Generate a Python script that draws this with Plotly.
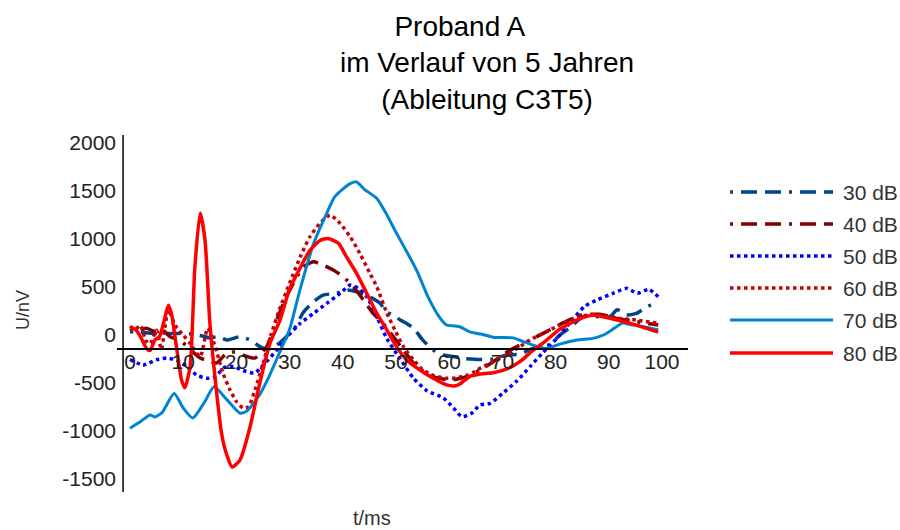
import plotly.graph_objects as go

# ---- data: time (ms) and amplitude (nV) for each stimulus level ----
t30 = [0, 2, 4.4, 6.9, 8.8, 10, 12.5, 15, 16.5, 18.2, 20.7, 22.6, 24.4, 26, 28.2, 30, 31.3, 32.5,
       34.5, 36.3, 38.8, 40.7, 42.6, 44.5, 47, 48.2, 49.5, 50.8, 52, 53.3, 55, 57, 58.9, 60.8,
       62.6, 65.8, 68.3, 70.8, 73.3, 75.2, 77.1, 78.9, 80.8, 82.7, 85.2, 88, 90.2, 91.6, 93.4,
       95.2, 97.4, 99.3]
u30 = [35, 30, 17, 17, 17, 17, 5, -30, -17, -52, -17, -52, -121, -150, -80, 17, 100, 230,
       347, 416, 434, 468, 451, 416, 330, 240, 208, 156, 121, 70, -50, -156, -208, -225,
       -243, -255, -250, -208, -200, -150, -120, -100, 0, 78, 191, 190, 191, 262, 210,
       225, 300, 330]

t40 = [0, 1.5, 3.1, 4.5, 6, 7.5, 9.5, 11.3, 13.2, 15, 16.3, 18, 20, 21.5, 23.5, 25.7, 27.6,
       29.1, 30.7, 32.6, 34.5, 36.3, 38.2, 40.1, 42, 43.9, 45.7, 47.6, 49.5, 51.4, 53.9, 57,
       60.2, 63.3, 65.8, 67.7, 71.4, 75.2, 78.3, 80.8, 84.6, 88.3, 91.5, 95.2, 99.3]
u40 = [70, 50, 70, 40, 60, -17, -60, -150, -240, -275, -290, -200, -175, -215, -240, -121, 156,
       364, 538, 710, 762, 728, 676, 606, 502, 364, 226, 121, -17, -156, -329, -434,
       -468, -434, -364, -300, -160, -52, 35, 110, 205, 215, 173, 140, 104]

t50 = [0, 2.5, 5, 7, 8.8, 10.7, 12.5, 14.4, 16, 17.7, 19.4, 21.3, 23.4, 25.2, 27.6, 29.5, 32,
       34.5, 37, 39.5, 41.4, 43, 44.5, 46.4, 48.3, 50.8, 53.3, 55.8, 58.9, 60.8, 62.4, 64.2,
       65.8, 67.7, 70, 72.7, 75.2, 77.5, 80.5, 83, 85.5, 88, 90.8, 93.4, 95.4, 97.5, 99.3]
u50 = [-255, -312, -258, -240, -265, -329, -416, -451, -434, -340, -329, -370, -395, -305, -156,
       -20, 121, 226, 330, 434, 520, 485, 399, 191, -40, -250, -450, -580, -655, -760, -850,
       -815, -728, -711, -610, -480, -330, -190, -20, 150, 300, 370, 434, 486, 434, 475, 399]

t60 = [0, 1, 2, 3, 3.8, 5, 5.9, 7.2, 8.5, 10, 11.3, 13.2, 14.6, 16, 17.5, 18.8, 20.1, 21.3,
       22.3, 23.5, 25, 26.5, 28, 30, 32, 33.8, 35.7, 37.6, 39.5, 41.4, 43.2, 45.1, 46.4, 48.3,
       49.8, 51.4, 53.3, 55, 57, 59.5, 61.4, 63.3, 64.5, 66, 67.7, 70.8, 73.3, 75.8, 78.3,
       80.8, 84, 86.5, 89, 92.1, 95.2, 99.3]
u60 = [90, 60, 100, -60, -90, 50, -150, 260, 100, 0, -87, -225, 70, -120, -400, -572, -700, -763,
       -746, -572, -300, 0, 250, 538, 814, 1022, 1162, 1248, 1162, 1022, 850, 642, 502, 226,
       52, -121, -260, -360, -420, -451, -445, -420, -390, -340, -295, -208, -121, -35, 35,
       104, 191, 208, 208, 173, 156, 121]

t70 = [0, 2, 3.8, 4.7, 6, 8.3, 10, 11.8, 14, 15.8, 18, 20.7, 22, 24.4, 26, 28.4, 30, 32, 34.5,
       37, 38.5, 40, 41.5, 42.6, 44, 46.4, 48, 50, 52, 54, 56, 58, 59.5, 61, 62, 64, 66, 68.5,
       72, 74, 76, 78.3, 80.8, 84, 87, 89, 91, 92.6, 94, 96.5, 99.3]
u70 = [-970, -900, -832, -853, -810, -610, -760, -865, -700, -540, -660, -815, -790, -620, -450,
       -146, 60, 480, 950, 1270, 1440, 1520, 1580, 1594, 1520, 1422, 1280, 1070, 870, 660, 400,
       200, 104, 95, 86, 30, 10, -25, -30, -70, -110, -140, -95, -52, -35, 0, 69, 125, 110,
       87, 55]

t80 = [0, 1, 2, 3.1, 3.8, 4.7, 5.5, 6.3, 7.2, 7.8, 8.8, 9.7, 10.3, 11.3, 12.2, 13.2, 14.1, 15,
       16, 17.2, 18.2, 19.2, 20.7, 22.6, 24.4, 26.3, 28.2, 30, 32, 33.8, 35.7, 37.2, 39.2, 40.7,
       42.6, 44.5, 46.4, 48.3, 50.1, 52, 54.5, 57, 59.5, 61, 62, 63.9, 65.5, 68.5, 71, 73.5,
       75.5, 77.5, 80.8, 84, 87.1, 90.2, 94, 97.1, 99.3]
u80 = [70, 60, -20, -140, -160, -50, -20, 120, 310, 220, -150, -470, -550, -330, 710, 1270, 990,
       140, -450, -1020, -1250, -1375, -1300, -950, -500, -87, 156, 480, 700, 880, 985, 1006,
       954, 814, 642, 434, 226, 52, -121, -260, -364, -450, -520, -530, -510, -430, -410, -390,
       -350, -270, -170, -90, 60, 156, 208, 173, 121, 69, 30]

labels = ["30 dB", "40 dB", "50 dB", "60 dB", "70 dB", "80 dB"]
times = [t30, t40, t50, t60, t70, t80]
values = [u30, u40, u50, u60, u70, u80]

x_ticks = [0, 10, 20, 30, 40, 50, 60, 70, 80, 90, 100]
y_ticks = [-1500, -1000, -500, 0, 500, 1000, 1500, 2000]
y_ticktext = [str(v) for v in y_ticks]  # plain hyphen-minus

# ---- line styles per level ----
DASHDOT = "3px,8px,16px,8px,16px,8px"
DOTS = "3.5px,3.5px"
styles = [
    dict(color="#004586", dash=DASHDOT, width=3.5),
    dict(color="#800000", dash=DASHDOT, width=3.5),
    dict(color="#0000ff", dash=DOTS, width=3.5),
    dict(color="#c5000b", dash=DOTS, width=3.5),
    dict(color="#0084d1", dash="solid", width=3),
    dict(color="#ff0000", dash="solid", width=3.5),
]

W, H = 900, 530
L, R, T, B = 117, 212, 135, 38
X_RANGE = [-2.44, 104.89]
Y_RANGE = [-1635, 2083]
X_AXIS_AT = -146          # horizontal axis crosses here
Y_AXIS_AT = -1.3          # vertical axis crosses here

fig = go.Figure()
for lab, t, u, st in zip(labels, times, values, styles):
    fig.add_trace(go.Scatter(x=t, y=u, mode="lines", name=lab,
                             line=dict(**st, shape="spline", smoothing=0.6),
                             showlegend=False))

font_family = "Liberation Sans, Arial, sans-serif"
tick_col = "#222222"

x_pos = (X_AXIS_AT - Y_RANGE[0]) / (Y_RANGE[1] - Y_RANGE[0])

fig.update_layout(
    width=W, height=H,
    margin=dict(l=L, r=R, t=T, b=B),
    paper_bgcolor="white", plot_bgcolor="white",
    font=dict(family=font_family, size=21, color=tick_col),
    title=dict(
        text="Proband A" + "\u00a0" * 7 + "<br>im Verlauf von 5 Jahren<br>(Ableitung C3T5)",
        x=487 / W, xanchor="center", xref="container",
        y=1 - 36 / H, yanchor="top", yref="container",
        font=dict(family=font_family, size=28, color="#000000"),
    ),
    xaxis=dict(
        range=X_RANGE, showgrid=False, zeroline=False,
        tickvals=x_ticks,
        ticks="", showline=True, linecolor="#000000", linewidth=1.5,
        anchor="free", position=x_pos, ticklabelstandoff=-6,
        tickfont=dict(size=21, color=tick_col),
    ),
    yaxis=dict(
        range=Y_RANGE, showgrid=False, zeroline=False,
        tickvals=y_ticks, ticktext=y_ticktext,
        ticks="", showline=False,
        tickfont=dict(size=21, color=tick_col),
    ),
)

# vertical axis line
fig.add_shape(type="line", xref="x", yref="paper", x0=Y_AXIS_AT, x1=Y_AXIS_AT, y0=0, y1=1,
              line=dict(color="#000000", width=1.5))

pw, ph = W - L - R, H - T - B

# axis titles
fig.add_annotation(text="U/nV", xref="paper", yref="paper",
                   x=(23 - L) / pw, y=(H - B - 310) / ph,
                   xanchor="center", yanchor="middle",
                   textangle=-90, showarrow=False,
                   font=dict(size=18, color="#333333"))
fig.add_annotation(text="t/ms", xref="paper", yref="paper",
                   x=(372 - L) / pw, y=(H - B - 518) / ph,
                   xanchor="center", yanchor="middle",
                   showarrow=False, font=dict(size=20, color="#333333"))

# legend: long line samples with labels
leg_y = [192, 224, 256, 288, 320, 353]
for lab, st, py in zip(labels, styles, leg_y):
    yy = (H - B - py) / ph
    fig.add_shape(type="line", xref="paper", yref="paper",
                  x0=(730 - L) / pw, x1=(833 - L) / pw, y0=yy, y1=yy,
                  line=dict(color=st["color"], dash=st["dash"], width=st["width"]))
    fig.add_annotation(text=lab, xref="paper", yref="paper",
                       x=(841 - L) / pw, y=yy, xanchor="left", yanchor="middle",
                       showarrow=False, font=dict(size=21, color="#333333"))

fig.write_html("out.html")
